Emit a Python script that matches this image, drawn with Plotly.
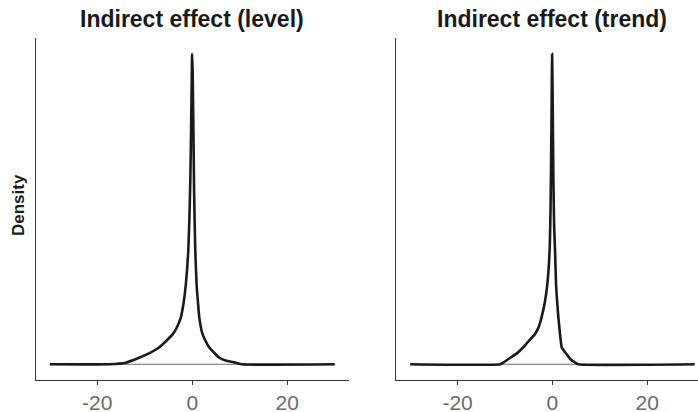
import plotly.graph_objects as go

# ---- data ----
panel_titles = ["Indirect effect (level)", "Indirect effect (trend)"]
tick_values = [-20, 0, 20]
tick_labels = ["-20", "0", "20"]

level_x = [-30, -17.5, -14, -11.2, -9, -7, -5.5, -4.1, -3.2, -2.4, -1.8, -1.34, -0.84, -0.6, -0.4,
           -0.25, -0.1, -0.05, 0.0, 0.1, 0.25, 0.4, 0.63, 0.91, 1.2, 1.48, 2.1, 2.8, 3.6, 4.6,
           5.7, 7, 9.2, 10.5, 30]
level_y = [0, 0, 0.005, 0.021, 0.036, 0.054, 0.075, 0.097, 0.12, 0.151, 0.2, 0.259, 0.366, 0.47, 0.6,
           0.75, 0.93, 0.99, 1.0, 0.93, 0.75, 0.55, 0.37, 0.26, 0.2, 0.151, 0.1, 0.075, 0.054, 0.037,
           0.021, 0.012, 0.005, 0, 0]
level_base = [-17.5, 10.5]

trend_x = [-30, -11, -10.4, -8.9, -7.5, -6.2, -5, -3.7, -2.9, -2.3, -1.6, -1.07, -0.6, -0.4, -0.22,
           -0.12, -0.08, -0.02, 0.05, 0.2, 0.35, 0.55, 0.76, 1.0, 1.25, 1.6, 1.96, 2.5, 3.0, 3.8,
           4.8, 5.5, 30]
trend_y = [0, 0, 0.005, 0.021, 0.035, 0.054, 0.075, 0.097, 0.12, 0.151, 0.2, 0.259, 0.366, 0.5, 0.75,
           0.93, 1.0, 0.95, 0.85, 0.6, 0.45, 0.366, 0.259, 0.2, 0.151, 0.097, 0.054, 0.042, 0.032, 0.016,
           0.005, 0, 0]
trend_base = [-11, 5.5]

# ---- figure ----
W, H = 698, 412
TOP, BOT = 38, 380
fig = go.Figure()

LINE = "#1a1a1a"
for i, (xs, ys, base) in enumerate([(level_x, level_y, level_base), (trend_x, trend_y, trend_base)]):
    xa = "x" if i == 0 else "x2"
    ya = "y" if i == 0 else "y2"
    fig.add_trace(go.Scatter(x=base, y=[0, 0], mode="lines", xaxis=xa, yaxis=ya,
                             line=dict(color="#6e6e6e", width=1.2), showlegend=False,
                             hoverinfo="skip"))
    fig.add_trace(go.Scatter(x=xs, y=ys, mode="lines", xaxis=xa, yaxis=ya,
                             line=dict(color=LINE, width=2.6, shape="spline", smoothing=0.5),
                             showlegend=False))

axis_common = dict(showgrid=False, zeroline=False, showline=True, linecolor="#333333",
                   linewidth=1, ticks="outside", ticklen=4, tickcolor="#333333", tickwidth=1,
                   tickvals=tick_values, ticktext=tick_labels,
                   automargin=False,
                   tickfont=dict(family="Liberation Sans, Arial", size=21, color="#6b6b6b"))
yaxis_common = dict(showgrid=False, zeroline=False, showline=True, linecolor="#333333",
                    linewidth=1, showticklabels=False, ticks="", range=[-0.0508, 1.052],
                    automargin=False)

fig.update_layout(
    width=W, height=H,
    margin=dict(l=0, r=0, t=TOP, b=H - BOT),
    paper_bgcolor="white", plot_bgcolor="white",
    xaxis=dict(domain=[35.5 / W, 349 / W], range=[-33, 33], anchor="y", **axis_common),
    xaxis2=dict(domain=[395.5 / W, 1.0], range=[-33.1, 30.7], anchor="y2", **axis_common),
    yaxis=dict(anchor="x", **yaxis_common),
    yaxis2=dict(anchor="x2", **yaxis_common),
)

for i, t in enumerate(panel_titles):
    fig.add_annotation(text="<b>%s</b>" % t, x=0, xref="x" if i == 0 else "x2",
                       y=1, yref="paper", yanchor="middle", yshift=19, showarrow=False,
                       font=dict(family="Liberation Sans, Arial", size=23, color="#1a1a1a"))

fig.add_annotation(text="<b>Density</b>", x=18 / W, xref="paper", xanchor="center",
                   y=(BOT - 205) / (BOT - TOP), yref="paper", yanchor="middle",
                   textangle=-90, showarrow=False,
                   font=dict(family="Liberation Sans, Arial", size=17, color="#1a1a1a"))

fig.write_html("out.html", config={"displayModeBar": False},
               post_script="document.body.style.margin='0px';")
